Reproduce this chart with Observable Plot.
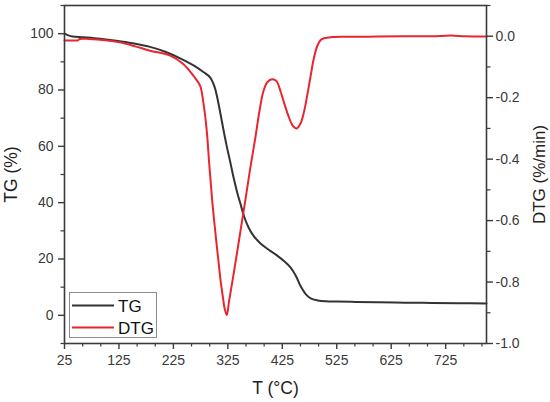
<!DOCTYPE html>
<html>
<head>
<meta charset="utf-8">
<script src="https://cdn.jsdelivr.net/npm/d3@7"></script>
<script src="https://cdn.jsdelivr.net/npm/@observablehq/plot@0.6"></script>
<style>
  html, body { margin: 0; padding: 0; background: #fff; }
  #wrap { position: relative; width: 550px; height: 402px; font-family: "Liberation Sans", Arial, sans-serif; }
  #legend { position: absolute; left: 69px; top: 292px; width: 88px; height: 46px; border: 1px solid #8c8c8c; background: #fff; box-sizing: border-box; }
  #legend svg { display: block; }
</style>
</head>
<body>
<div id="wrap">
  <div id="chart"></div>
  <div id="legend"></div>
</div>
<script>
// --- Data ---
const tgTemp = [25, 32, 40, 60, 90, 120, 150, 182, 210, 243, 265, 280, 292, 300, 305, 311, 317, 323, 329, 336, 343, 348, 355, 363, 373, 385, 400, 415, 428, 440, 450, 459, 468, 477, 490, 505, 525, 560, 600, 650, 700, 750, 800];
const tgValues = [100, 99.4, 99.0, 98.7, 98.2, 97.5, 96.6, 95.3, 93.6, 90.7, 88.4, 86.4, 84.6, 81.5, 77.8, 72, 65.8, 60, 54.8, 48.5, 43, 39.7, 35, 31.2, 28, 25.5, 23.3, 21.3, 19.3, 17, 14, 10.2, 7.5, 6.0, 5.3, 5.0, 4.9, 4.75, 4.65, 4.5, 4.4, 4.3, 4.2];

const dtgTemp = [25, 45, 50, 53, 70, 100, 127, 155, 182, 219, 243, 262, 274, 280, 286, 291, 296, 301, 307, 312, 316, 319, 323, 327.6, 335, 348, 359, 366.4, 375.6, 383, 390.3, 397.7, 406.4, 414.3, 421.7, 429, 436.4, 443.8, 451.2, 458.6, 464.7, 471.5, 477, 482.6, 489.4, 495.5, 501.6, 514, 550, 600, 650, 700, 735, 760, 800];
const dtgValues = [-0.014, -0.014, -0.013, -0.009, -0.009, -0.013, -0.02, -0.033, -0.047, -0.063, -0.09, -0.129, -0.161, -0.216, -0.303, -0.42, -0.53, -0.62, -0.72, -0.80, -0.85, -0.885, -0.907, -0.858, -0.78, -0.636, -0.512, -0.427, -0.329, -0.244, -0.179, -0.149, -0.14, -0.146, -0.179, -0.221, -0.26, -0.29, -0.30, -0.283, -0.247, -0.185, -0.13, -0.074, -0.031, -0.012, -0.0065, -0.003, -0.002, -0.001, 0.0, 0.0, 0.002, 0.0, -0.001];

const xTicks = [25, 125, 225, 325, 425, 525, 625, 725];
const tgTicks = [0, 20, 40, 60, 80, 100];
const dtgTicks = [-1.0, -0.8, -0.6, -0.4, -0.2, 0.0];
const seriesNames = ["TG", "DTG"];
const seriesColors = ["#333333", "#e8262e"];
const axisLabels = { x: "T (°C)", yLeft: "TG (%)", yRight: "DTG (%/min)" };

// --- Scales ---
const tgDomain = [-10, 110];
const dtgDomain = [-1.0, 0.1];
const xDomain = [25, 800];
const dtgToTg = d => tgDomain[0] + (d - dtgDomain[0]) / (dtgDomain[1] - dtgDomain[0]) * (tgDomain[1] - tgDomain[0]);
const tgToDtg = t => dtgDomain[0] + (t - tgDomain[0]) / (tgDomain[1] - tgDomain[0]) * (dtgDomain[1] - dtgDomain[0]);

const tgData = tgTemp.map((t, i) => ({ t, v: tgValues[i] }));
const dtgData = dtgTemp.map((t, i) => ({ t, v: dtgToTg(dtgValues[i]) }));

const xMinor = d3.range(0, 24).map(i => xDomain[0] + i * 100 / 3).filter(v => v <= xDomain[1] + 1e-6 && !xTicks.some(m => Math.abs(m - v) < 1e-6));
const tgMinor = d3.range(-10, 111, 20);
const dtgMinor = d3.range(-0.9, 0.11, 0.2).map(dtgToTg);

const axisColor = "#3a3a3a";
const fmtDtg = v => { const d = tgToDtg(v); return (Math.abs(d) < 1e-9 ? 0 : d).toFixed(1); };

const chart = Plot.plot({
  width: 550,
  height: 402,
  marginLeft: 64,
  marginRight: 64,
  marginTop: 5,
  marginBottom: 59,
  style: { fontFamily: '"Liberation Sans", Arial, sans-serif', background: "#fff", overflow: "visible" },
  x: { domain: xDomain },
  y: { domain: tgDomain },
  marks: [
    Plot.line(tgData, { x: "t", y: "v", stroke: seriesColors[0], strokeWidth: 2, curve: "catmull-rom" }),
    Plot.line(dtgData, { x: "t", y: "v", stroke: seriesColors[1], strokeWidth: 2, curve: "catmull-rom" }),
    Plot.frame({ stroke: axisColor, strokeWidth: 1.6 }),
    // bottom axis
    Plot.axisX({ ticks: xTicks, tickSize: 6, tickPadding: 6, fontSize: 14, color: axisColor, strokeWidth: 1.4, label: null, tickFormat: d => String(d) }),
    Plot.axisX({ ticks: xMinor, tickSize: 3.5, color: axisColor, strokeWidth: 1.2, label: null, tickFormat: () => "" }),
    // left axis
    Plot.axisY({ anchor: "left", ticks: tgTicks, tickSize: 6, tickPadding: 5, fontSize: 14, color: axisColor, strokeWidth: 1.4, label: null, tickFormat: d => String(d) }),
    Plot.axisY({ anchor: "left", ticks: tgMinor, tickSize: 3.5, color: axisColor, strokeWidth: 1.2, label: null, tickFormat: () => "" }),
    // right axis (DTG)
    Plot.axisY({ anchor: "right", ticks: dtgTicks.map(dtgToTg), tickSize: 6, tickPadding: 3, fontSize: 14, color: axisColor, strokeWidth: 1.4, label: null, tickFormat: fmtDtg }),
    Plot.axisY({ anchor: "right", ticks: dtgMinor, tickSize: 3.5, color: axisColor, strokeWidth: 1.2, label: null, tickFormat: () => "" }),
    // axis titles
    Plot.text([axisLabels.x], { text: d => d, frameAnchor: "bottom", dy: 45, fontSize: 17.5, fill: "#222", textAnchor: "middle", lineAnchor: "middle" }),
    Plot.text([axisLabels.yLeft], { text: d => d, frameAnchor: "left", dx: -53, rotate: -90, fontSize: 17.5, fill: "#222", textAnchor: "middle", lineAnchor: "middle" }),
    Plot.text([axisLabels.yRight], { text: d => d, frameAnchor: "right", dx: 53, rotate: -90, fontSize: 17, fill: "#222", textAnchor: "middle", lineAnchor: "middle" })
  ]
});
document.getElementById("chart").appendChild(chart);

// --- Legend ---
const lg = d3.select("#legend").append("svg").attr("width", 86).attr("height", 44);
seriesNames.forEach((name, i) => {
  const y = 12.5 + i * 22;
  lg.append("line").attr("x1", 2).attr("x2", 44).attr("y1", y).attr("y2", y)
    .attr("stroke", seriesColors[i]).attr("stroke-width", 2.2);
  lg.append("text").attr("x", 48).attr("y", y).attr("dy", "0.36em")
    .attr("font-size", 17).attr("fill", "#111")
    .attr("font-family", '"Liberation Sans", Arial, sans-serif').text(name);
});
</script>
</body>
</html>
